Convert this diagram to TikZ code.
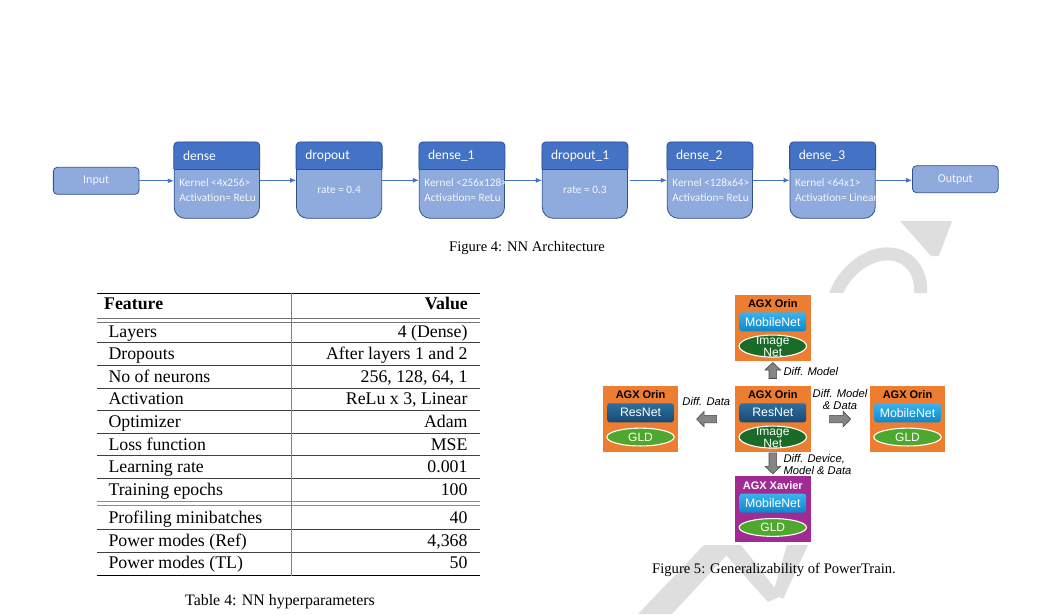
\documentclass[tikz,border=0pt]{standalone}
\usepackage{fontspec}
\setmainfont{Liberation Serif}
\newfontfamily\calibf{Carlito}
\newfontfamily\arialf{Liberation Sans}
\usetikzlibrary{shapes.geometric,calc,arrows.meta}
\definecolor{bodyc}{HTML}{8FAADC}
\definecolor{hdrc}{HTML}{4472C4}
\definecolor{edgec}{HTML}{2F528F}
\definecolor{arrc}{HTML}{4472C4}
\definecolor{orng}{HTML}{ED7D31}
\definecolor{purp}{HTML}{A02B93}
\definecolor{btnLtTop}{HTML}{3AB3EE}
\definecolor{btnLtBot}{HTML}{0C88CA}
\definecolor{btnDkTop}{HTML}{2D6F9F}
\definecolor{btnDkBot}{HTML}{174A74}
\definecolor{grnDk}{HTML}{1B6B28}
\definecolor{grnLt}{HTML}{4EA72E}
\definecolor{wm}{HTML}{DEDEDE}
\definecolor{txtlt}{HTML}{F4F6FB}

\newcommand\layerbox[3]{%
  \node[layerbody] (#1) at (#2,180.3) {};
  \begin{scope}
    \clip ([xshift=-2pt,yshift=2pt]#1.north west) rectangle ([xshift=2pt,yshift=-27pt]#1.north east);
    \draw[layerhead] (#1.north west) rectangle (#1.south east);
  \end{scope}
  \draw[edgeline] ([yshift=-27pt]#1.north west) -- ([yshift=-27pt]#1.north east);
  \node[headtxt] (#1-h) at ([xshift=9pt,yshift=-14pt]#1.north west) {#3};
}
\newcommand\twolines[3]{%
  \node[bodytxt] (#1-k) at ([xshift=5.3pt,yshift=-41pt]#1.north west) {#2};
  \node[bodytxt] (#1-a) at ([xshift=5.3pt,yshift=-55.4pt]#1.north west) {#3};
}
\newcommand\devbox[9]{%
  \node[#4] (#1) at (#2,#3) {};
  \node[devtitle] (#1-t) at ([yshift=-9.2pt]#1.north) {#5};
  \node[#6] (#1-b) at ([yshift=-27pt]#1.north) {#7};
  \node[#8] (#1-e) at ([yshift=-51.3pt]#1.north) {};
  \node[elltxt] (#1-l) at (#1-e) {#9};
}
% block arrow: name, centre, direction angle, length
\newcommand\blockarr[4]{%
  \coordinate (#1) at #2;
  \begin{scope}[shift={(#1)},rotate=#3]
    \draw[blockarrow] (-#4/2,-3.8) -- (#4/2-7.5,-3.8) -- (#4/2-7.5,-7.8) -- (#4/2,0)
      -- (#4/2-7.5,7.8) -- (#4/2-7.5,3.8) -- (-#4/2,3.8) -- cycle;
  \end{scope}
}

\begin{document}
\begin{tikzpicture}[x=1pt,y=-1pt,
  layerbody/.style={draw=edgec,fill=bodyc,rounded corners=11pt,minimum width=85.2pt,minimum height=76pt,inner sep=0pt,line width=0.8pt},
  layerhead/.style={draw=edgec,fill=hdrc,rounded corners=4pt,line width=0.8pt},
  edgeline/.style={draw=edgec,line width=0.8pt},
  headtxt/.style={anchor=west,inner sep=0pt,text=white,font=\calibf\fontsize{13.5}{15}\selectfont},
  bodytxt/.style={anchor=west,inner sep=0pt,text=txtlt,font=\calibf\fontsize{11.3}{12}\selectfont},
  iobox/.style={draw=edgec,fill=bodyc,rounded corners=4pt,minimum width=85.7pt,minimum height=27pt,inner sep=0pt,line width=0.8pt,text=txtlt,font=\calibf\fontsize{12}{14}\selectfont},
  conn/.style={draw=arrc,line width=0.9pt,-{Latex[length=6pt,width=5pt]}},
  captxt/.style={inner sep=0pt,font=\fontsize{14.6}{17}\selectfont},
  tcell/.style={inner sep=0pt,font=\fontsize{17.8}{20}\selectfont},
  orin/.style={fill=orng,minimum width=75.7pt,minimum height=65.7pt,inner sep=0pt},
  xavier/.style={fill=purp,minimum width=75.7pt,minimum height=65.7pt,inner sep=0pt},
  devtitle/.style={inner sep=0pt,font=\arialf\bfseries\fontsize{11}{12}\selectfont},
  btnlt/.style={rounded corners=2.5pt,top color=btnLtTop,bottom color=btnLtBot,minimum width=66.7pt,minimum height=19pt,inner sep=0pt,text=white,font=\arialf\fontsize{12.3}{13}\selectfont},
  btndk/.style={rounded corners=2.5pt,top color=btnDkTop,bottom color=btnDkBot,minimum width=66.7pt,minimum height=19pt,inner sep=0pt,text=white,font=\arialf\fontsize{12.3}{13}\selectfont},
  elldk/.style={ellipse,draw=white,line width=1.1pt,fill=grnDk,minimum width=67.4pt,minimum height=22pt,inner sep=0pt},
  elllt/.style={ellipse,draw=white,line width=1.1pt,fill=grnLt,minimum width=67.4pt,minimum height=17.8pt,inner sep=0pt},
  elltxt/.style={inner sep=0pt,align=center,text=white,font=\arialf\fontsize{12}{10.5}\selectfont},
  blockarrow/.style={draw=black!72,line width=0.6pt,fill=black!48,line join=miter},
  difflbl/.style={inner sep=0pt,font=\arialf\itshape\fontsize{11.2}{11.7}\selectfont}
]
\useasboundingbox (0,0) rectangle (1063,614);
\fill[white] (0,0) rectangle (1063,614);

% ---------- watermark (partly hidden behind the figures) ----------
\draw[wm,line width=13pt,rotate around={-35:(876,303)}] (876,303) ellipse [x radius=40pt,y radius=53pt];
\fill[wm] (900,221) -- (952,221) -- (939,256) -- (931,256) -- cycle;
\fill[wm] (704,545) -- (736,545) -- (672,614) -- (638,614) -- cycle;
\fill[wm] (717,545) -- (741,545) -- (781,596) -- (768,602) -- cycle;
\fill[wm] (787,545) -- (808,545) -- (783,599) -- (773,593) -- cycle;

% ---------- Figure 4 ----------
\fill[white] (50,136) rectangle (1004,221);
\node[iobox] (in) at (96.2,180.8) {Input};
\layerbox{d0}{216.8}{dense}
\twolines{d0}{Kernel <4x256>}{Activation= ReLu}
\layerbox{p0}{339.1}{dropout}
\node[bodytxt,anchor=center] (p0-r) at ([yshift=-47.7pt]p0.north) {rate = 0.4};
\layerbox{d1}{461.9}{dense\_1}
\twolines{d1}{Kernel <256x128>}{Activation= ReLu}
\layerbox{p1}{584.9}{dropout\_1}
\node[bodytxt,anchor=center] (p1-r) at ([yshift=-47.7pt]p1.north) {rate = 0.3};
\layerbox{d2}{709.9}{dense\_2}
\twolines{d2}{Kernel <128x64>}{Activation= ReLu}
\layerbox{d3}{832.6}{dense\_3}
\twolines{d3}{Kernel <64x1>}{Activation= Linear}
\node[iobox] (out) at (955.3,179.2) {Output};

\draw[conn] (in.east) -- (in.east -| d0.west);
\draw[conn] (d0.east) -- (p0.west);
\draw[conn] (p0.east) -- (d1.west);
\draw[conn] (d1.east) -- (p1.west);
\draw[conn,shorten <=2.5pt] (p1.east) -- (d2.west);
\draw[conn] (d2.east) -- (d3.west);
\draw[conn] (d3.east) -- (d3.east -| out.west);

\node[captxt] (cap4) at (527,248) {Figure 4: NN Architecture};

% ---------- Table 4 ----------
\draw[black,line width=0.9pt] (97,293.3) -- (480,293.3);
\draw[black!55,line width=0.8pt] (97,318.3) -- (480,318.3) (97,322) -- (480,322);
\foreach \yy in {342.8,365.4,388,410.6,433.2,455.8,478.4,529.5,552.1}
  \draw[black!75,line width=0.7pt] (97,\yy) -- (480,\yy);
\draw[black!45,line width=0.8pt] (97,501.7) -- (480,501.7) (97,505) -- (480,505);
\draw[black,line width=0.9pt] (97,575.7) -- (480,575.7);
\draw[black!50,line width=0.8pt] (291.7,293.3) -- (291.7,575.7);
\node[tcell,anchor=base west] (th1) at (104,309) {\bfseries Feature};
\node[tcell,anchor=base east] (th2) at (468,309) {\bfseries Value};
\foreach \yy/\ff/\vv [count=\i] in {
  337.1/Layers/4 (Dense),
  359.7/Dropouts/After layers 1 and 2,
  382.3/No of neurons/{256, 128, 64, 1},
  404.9/Activation/{ReLu x 3, Linear},
  427.5/Optimizer/Adam,
  450.1/Loss function/MSE,
  472.7/Learning rate/0.001,
  495.3/Training epochs/100,
  523.9/Profiling minibatches/40,
  546.4/Power modes (Ref)/{4,368},
  568.9/Power modes (TL)/50}
{
  \node[tcell,anchor=base west] (tf\i) at (108.3,\yy) {\ff};
  \node[tcell,anchor=base east] (tv\i) at (467.7,\yy) {\vv};
}
\node[captxt,font=\fontsize{15.9}{18}\selectfont] (cap5t) at (280,602) {Table 4: NN hyperparameters};

% ---------- Figure 5 ----------
\fill[white] (597,293) rectangle (947,545);
\devbox{ctr}{772.8}{418.8}{orin}{AGX Orin}{btndk}{ResNet}{elldk}{Image\\Net}
\devbox{top}{772.8}{327.8}{orin}{AGX Orin}{btnlt}{MobileNet}{elldk}{Image\\Net}
\devbox{lft}{640.5}{418.8}{orin}{AGX Orin}{btndk}{ResNet}{elllt}{GLD}
\devbox{rgt}{907.5}{418.8}{orin}{AGX Orin}{btnlt}{MobileNet}{elllt}{GLD}
\devbox{bot}{772.8}{509.2}{xavier}{\color{white}AGX Xavier}{btnlt}{MobileNet}{elllt}{GLD}

\blockarr{aup}{($(ctr.north)!0.5!(top.south)+(0,-2.8)$)}{90}{16}
\blockarr{alf}{($(ctr.west)!0.5!(lft.east)+(0,0.3)$)}{180}{20}
\blockarr{art}{($(ctr.east)!0.5!(rgt.west)+(0,0.3)$)}{0}{21}
\blockarr{adn}{($(ctr.south)!0.5!(bot.north)+(0,-0.7)$)}{270}{21}

\node[difflbl,anchor=west] (lup) at (783.3,371.2) {Diff. Model};
\node[difflbl] (llf) at (706.3,401) {Diff. Data};
\node[difflbl,align=center] (lrt) at (840,399.2) {Diff. Model\\\& Data};
\node[difflbl,align=left,anchor=west] (ldn) at (783.3,464.6) {Diff. Device,\\Model \& Data};

\node[captxt] (cap5) at (774,570) {Figure 5: Generalizability of PowerTrain.};
\end{tikzpicture}
\end{document}
